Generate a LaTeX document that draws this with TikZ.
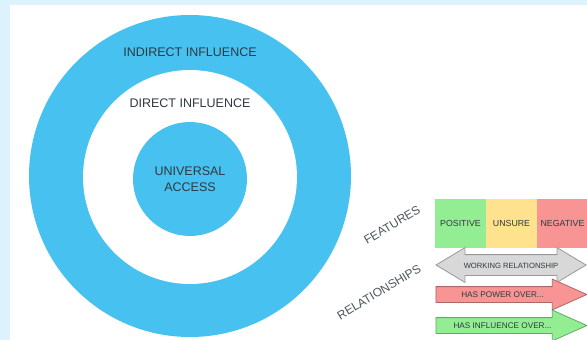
\documentclass[tikz,border=0pt]{standalone}
\usepackage{fontspec}
\setmainfont{Liberation Sans}
\usetikzlibrary{shapes,arrows,calc,positioning}

\definecolor{framebg}{HTML}{DCF2FC}
\definecolor{ringblue}{HTML}{47C2F0}
\definecolor{txtdark}{HTML}{2E3940}
\definecolor{posgreen}{HTML}{93EE93}
\definecolor{unsyellow}{HTML}{FFE28E}
\definecolor{negred}{HTML}{F89494}
\definecolor{wrkgrey}{HTML}{D8D8D8}

\begin{document}
\begin{tikzpicture}[x=1pt,y=-1pt,node distance=40pt,on grid,
    ring/.style={circle,inner sep=0pt,fill=#1},
    ringtext/.style={text=txtdark,align=center,font=\fontsize{12.5}{16}\selectfont},
    featbox/.style={fill=#1,minimum width=51pt,minimum height=49pt,inner sep=0pt,
      text=txtdark,font=\fontsize{8.8}{10}\selectfont},
    legtext/.style={rotate=31,text=txtdark!85,font=\fontsize{12}{13}\selectfont},
    workarrow/.style={double arrow,draw=black!40,fill=wrkgrey,line width=0.8pt,
      double arrow tip angle=62,double arrow head extend=7pt,minimum height=150pt,
      inner ysep=7pt,text height=6pt,text depth=0pt,text=txtdark,
      font=\fontsize{7.6}{9}\selectfont},
    relarrow/.style={single arrow,draw=#1!70!black,fill=#1,line width=0.8pt,
      single arrow tip angle=48,single arrow head extend=7.5pt,minimum height=151pt,
      inner ysep=4.5pt,text height=6pt,text depth=0pt,text=txtdark,anchor=tail,
      font=\fontsize{8.2}{9}\selectfont}]
      \useasboundingbox (0,0) rectangle (587,340);
      \fill[framebg] (0,0) rectangle (587,340);
      \fill[white] (10,5) rectangle (587,340);

      % the three rings
      \node[ring=ringblue,minimum size=322pt] (c_out) at (190,176) {};
      \node[ring=white,minimum size=214pt] (c_mid) at (190,177) {};
      \node[ring=ringblue,minimum size=114pt] (c_in) at (190,179) {};

      \node[ringtext] (t_ind) at ($(c_out.north)+(0,37)$) {INDIRECT INFLUENCE};
      \node[ringtext] (t_dir) at ($(c_mid.north)+(0,33)$) {DIRECT INFLUENCE};
      \node[ringtext] (t_acc) at (c_in) {UNIVERSAL\\ACCESS};

      % legend
      \node[legtext] (l_feat) at (392,225) {FEATURES};
      \node[legtext] (l_rel) at (379,292) {RELATIONSHIPS};

      \node[featbox=posgreen] (f_pos) at (460.5,223.5) {POSITIVE};
      \node[featbox=unsyellow] (f_uns) [right=51pt of f_pos] {UNSURE};
      \node[featbox=negred] (f_neg) [right=51pt of f_uns] {NEGATIVE};

      \node[workarrow] (r_work) at (511,265) {WORKING RELATIONSHIP};
      \node[relarrow=negred] (r_power) at (435.5,294.5) {HAS POWER OVER...};
      \node[relarrow=posgreen] (r_infl) at (435.5,325.5) {HAS INFLUENCE OVER...};
    \end{tikzpicture}
\end{document}
